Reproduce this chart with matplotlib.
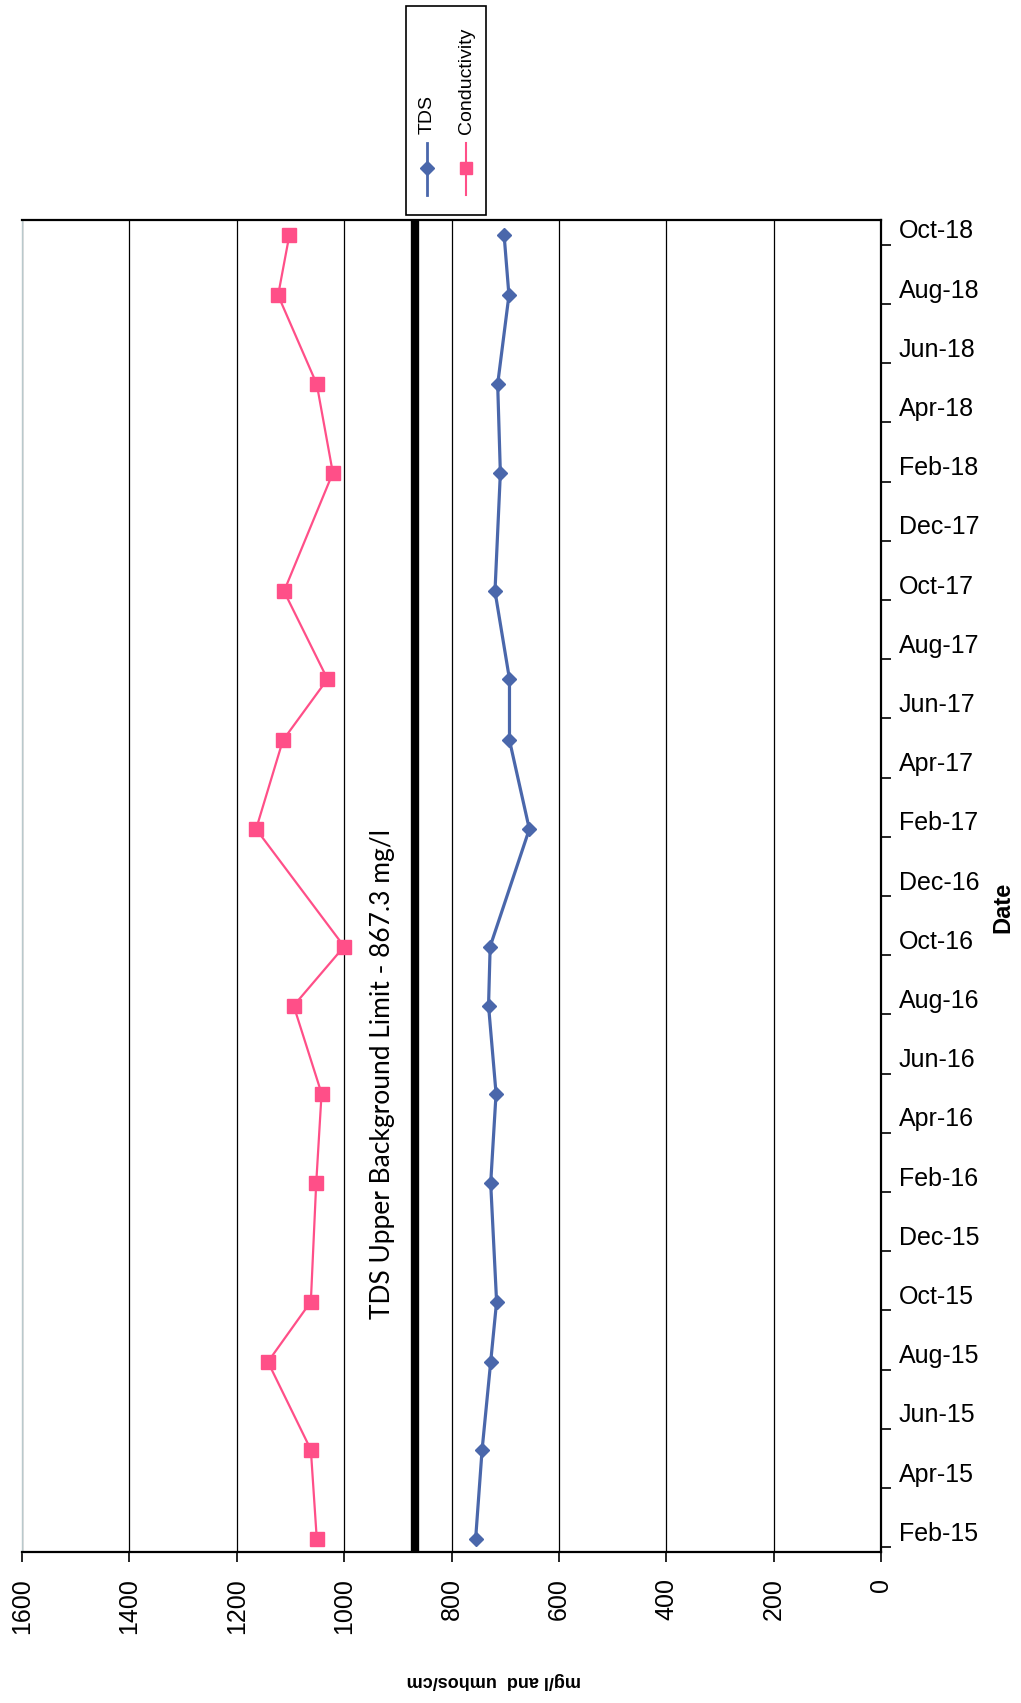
import matplotlib
matplotlib.use("Agg")
import matplotlib.pyplot as plt
from matplotlib.lines import Line2D
from matplotlib.patches import Rectangle
from matplotlib.ticker import FixedLocator, FixedFormatter, NullFormatter
from datetime import datetime

plt.rcParams["font.family"] = ["Liberation Sans", "DejaVu Sans"]

# ---- data -------------------------------------------------------------
sample_dates = [
    "2015-02-10", "2015-05-10", "2015-08-09", "2015-10-10",
    "2016-02-10", "2016-05-11", "2016-08-10", "2016-10-10",
    "2017-02-09", "2017-05-09", "2017-07-11", "2017-10-10",
    "2018-02-10", "2018-05-10", "2018-08-10", "2018-10-11",
]
tds = [755, 743, 727, 716, 727, 717, 731, 728,
       655, 692, 692, 719, 709, 714, 693, 702]
conductivity = [1051, 1062, 1142, 1062, 1052, 1042, 1094, 1000,
                1164, 1114, 1031, 1112, 1021, 1051, 1123, 1102]
date_labels = ["Feb-15", "Apr-15", "Jun-15", "Aug-15", "Oct-15", "Dec-15",
               "Feb-16", "Apr-16", "Jun-16", "Aug-16", "Oct-16", "Dec-16",
               "Feb-17", "Apr-17", "Jun-17", "Aug-17", "Oct-17", "Dec-17",
               "Feb-18", "Apr-18", "Jun-18", "Aug-18", "Oct-18"]
value_ticks = [0, 200, 400, 600, 800, 1000, 1200, 1400, 1600]
tds_limit = 867.3

TDS_COLOR = "#4A67AB"
COND_COLOR = "#FF4F88"

# months counted from 1 Feb 2015
def month_pos(d):
    return (d.year - 2015) * 12 + (d.month - 2) + (d.day - 1) / 30.4

t_samples = [month_pos(datetime.strptime(s, "%Y-%m-%d")) for s in sample_dates]
t_ticks = [month_pos(datetime.strptime(s, "%b-%y")) for s in date_labels]

W, H = 1021, 1703
fig = plt.figure(figsize=(W / 100, H / 100), dpi=100)
fig.patch.set_facecolor("white")

def fx(px):
    return px / W

def fy(py):
    return 1 - py / H

ax = fig.add_axes([fx(22), fy(1552), fx(881) - fx(22), fy(220) - fy(1552)])

ax.plot(tds, t_samples, color=TDS_COLOR, lw=2.3, marker="D", ms=7.5,
        mfc=TDS_COLOR, mec=TDS_COLOR, zorder=4)
ax.plot(conductivity, t_samples, color=COND_COLOR, lw=1.6, marker="s",
        ms=10.5, mfc=COND_COLOR, mec=COND_COLOR, zorder=4)
ax.axvline(tds_limit, color="black", lw=6, zorder=3)
ax.text(tds_limit + 61, 16, "TDS Upper Background Limit - 867.3 mg/l",
        rotation=90, ha="center", va="center", fontsize=19,
        family=["Lato", "DejaVu Sans"], zorder=5)

# value axis (increasing to the left)
ax.set_xlim(1600, 0)
ax.set_xticks(value_ticks)
ax.set_xticklabels([str(v) for v in value_ticks], rotation=90, fontsize=18)
ax.tick_params(axis="x", direction="out", length=7, width=1.2, pad=12)
ax.grid(axis="x", color="black", lw=0.9)
ax.set_axisbelow(True)

# date axis on the right
ax.set_ylim(-0.16, 44.84)
ax.yaxis.tick_right()
ax.yaxis.set_major_locator(FixedLocator(t_ticks))
ax.yaxis.set_major_formatter(NullFormatter())
ax.yaxis.set_minor_locator(FixedLocator([t + 0.54 for t in t_ticks]))
ax.yaxis.set_minor_formatter(FixedFormatter(date_labels))
ax.tick_params(axis="y", which="major", direction="out", length=7, width=1.2)
ax.tick_params(axis="y", which="minor", length=0, labelsize=18, pad=13)

for side in ("top", "right", "bottom"):
    ax.spines[side].set_color("black")
    ax.spines[side].set_linewidth(1.6)
ax.spines["left"].set_color("#b9c9cc")
ax.spines["left"].set_linewidth(1.0)

fig.text(fx(494), fy(1681), "mg/l and  umhos/cm", rotation=180,
         ha="center", va="center", fontsize=13, fontweight="bold")
fig.text(fx(1003), fy(907), "Date", rotation=90, ha="center", va="center",
         fontsize=17, fontweight="bold")

# legend box with vertical entries
fig.add_artist(Rectangle((fx(406), fy(215)), fx(486) - fx(406), fy(6) - fy(215),
                         transform=fig.transFigure, facecolor="white",
                         edgecolor="black", lw=1.2))
entries = [("TDS", TDS_COLOR, "D", 7.5, 2.0, 427),
           ("Conductivity", COND_COLOR, "s", 9, 1.5, 466)]
for name, color, mk, ms, lw, xpx in entries:
    fig.add_artist(Line2D([fx(xpx), fx(xpx)], [fy(195), fy(143)],
                          transform=fig.transFigure, color=color, lw=lw))
    fig.add_artist(Line2D([fx(xpx)], [fy(168)], transform=fig.transFigure,
                          color=color, marker=mk, ms=ms, mfc=color, mec=color))
    fig.text(fx(xpx), fy(134), name, rotation=90, ha="center", va="bottom",
             fontsize=14)

fig.savefig("out.png", dpi=100)
